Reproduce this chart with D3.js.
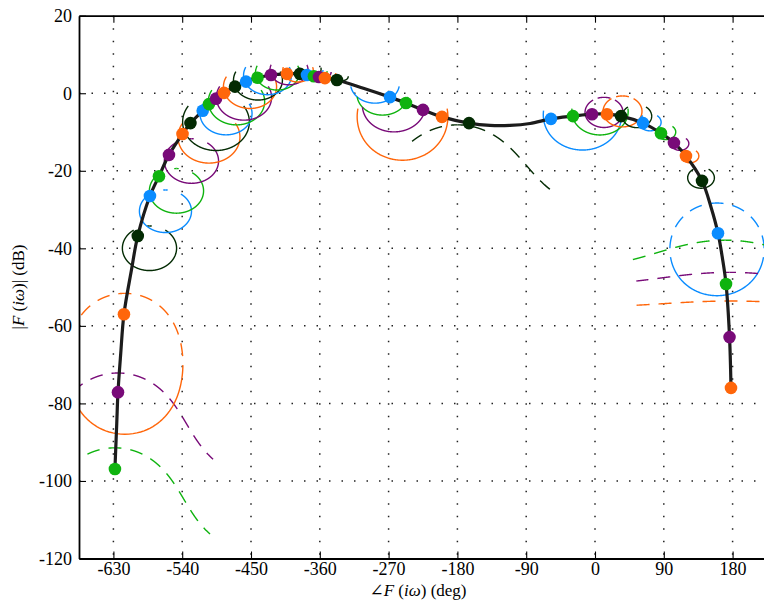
<!DOCTYPE html>
<html>
<head>
<meta charset="utf-8">
<script src="https://cdn.jsdelivr.net/npm/d3@7"></script>
<style>
  body { margin: 0; background: #fff; }
  svg { display: block; }
  svg text { font-family: "Liberation Serif", "DejaVu Serif", serif !important; fill: #000; }
</style>
</head>
<body>
<svg id="chart" width="764" height="608"></svg>
<script>
// Axis ticks
const xTicks = [-630, -540, -450, -360, -270, -180, -90, 0, 90, 180];
const yTicks = [20, 0, -20, -40, -60, -80, -100, -120];

// Nominal frequency response F(iω): phase (deg) and magnitude (dB)
const curvePhase = [-628, -625.6, -624, -620.4, -616.2, -606.4, -598.1, -582.2, -570.4, -557.3, -539.6, -529.2,
  -513.2, -505.0, -495.8, -485.3, -470.9, -456.5, -441.5, -423.9, -403.0, -386.0, -376.8, -367.7, -361.1, -353.3,
  -337.6, -303.0, -268.2, -247.3, -225.0, -200.2, -164.8, -137.4, -111.2, -85.0, -57.6, -28.8, -3.9, 15.7, 34.0,
  62.8, 86.3, 103.3, 119.0, 140.0, 151.8, 160.9, 166.8, 171.4, 176.0, 177.9];
const curveDb = [-96.9, -85.1, -77.1, -67.1, -57.0, -45.6, -36.8, -26.5, -21.4, -15.9, -10.5, -7.7,
  -4.5, -2.8, -1.4, 0.1, 1.7, 3.0, 4.0, 4.7, 5.0, 5.0, 4.7, 4.4, 4.2, 3.9,
  3.4, 1.3, -1.0, -2.5, -4.3, -6.1, -7.7, -8.3, -8.3, -7.8, -6.6, -5.9, -5.4, -5.4, -5.9,
  -7.7, -10.3, -12.8, -16.2, -22.6, -29.4, -36.1, -42.7, -49.2, -62.9, -76.0];

// Frequency samples marked on the response
const markerPhase = [-628, -624, -616.2, -598.1, -582.2, -570.4, -557.3, -539.6, -529.2, -513.2, -505.0,
  -495.8, -485.3, -470.9, -456.5, -441.5, -423.9, -403.0, -386.0, -376.8, -367.7, -361.1, -353.3, -337.6,
  -268.2, -247.3, -225.0, -200.2, -164.8, -57.6, -28.8, -3.9, 15.7, 34.0, 62.8, 86.3, 103.3, 119.0, 140.0,
  160.9, 171.4, 176.0, 177.9];
const markerDb = [-96.9, -77.1, -57.0, -36.8, -26.5, -21.4, -15.9, -10.5, -7.7, -4.5, -2.8,
  -1.4, 0.1, 1.7, 3.0, 4.0, 4.7, 5.0, 5.0, 4.7, 4.4, 4.2, 3.9, 3.4,
  -1.0, -2.5, -4.3, -6.1, -7.7, -6.6, -5.9, -5.4, -5.4, -5.9, -7.7, -10.3, -12.8, -16.2, -22.6,
  -36.1, -49.2, -62.9, -76.0];
const seriesColors = ["#0a8cff", "#0fb30f", "#780a78", "#ff660a", "#032b03"];

// Uncertainty discs (complex plane): centre phase/dB, radius relative to |centre|
const circlePhase = [-628, -624, -615, -582.8, -561.9, -547.5, -527.9, -505.0, -495.8, -482.7, -469.0,
  -459.2, -451.3, -440.9, -428.4, -415.4, -400.3, -388.5, -372.8, -366.3, -359.8, -353.2, -346.7, -329.7,
  -287.8, -278.0, -263.0, -251.8, -180.0, -16.4, 6.5, 11.8, 36.0, 54.9, 72.0, 92.9, 111.2, 124.3, 138.7,
  159.6, 170.1, 176.0, 177.9];
const circleDb = [-97.9, -78.6, -57.5, -38.2, -28.8, -23.4, -15.7, -8.9, -4.6, -3.6, -0.2,
  0.8, 3.4, 4.8, 6.0, 6.5, 6.9, 6.5, 6.5, 6.0, 5.7, 5.5, 5.2, 4.4,
  4.0, 1.3, -0.6, -0.2, -15.0, -1.5, -2.8, -4.1, -3.8, -5.4, -7.2, -9.8, -12.8, -16.0, -21.4,
  -33.8, -49.4, -63.1, -76.2];
const circleRho = [1.1, 1.1, 0.97, 0.58, 0.56, 0.58, 0.58, 0.65, 0.69, 0.56, 0.6,
  0.59, 0.57, 0.53, 0.52, 0.48, 0.42, 0.34, 0.25, 0.18, 0.16, 0.14, 0.13, 0.12,
  0.53, 0.55, 0.66, 0.86, 1.2, 0.78, 0.6, 0.42, 0.43, 0.33, 0.25, 0.22, 0.2, 0.2, 0.3,
  0.88, 2.76, 6, 12.5];
// Arc ranges in degrees around each disc (0 = outermost point, 180 = point nearest the origin)
const L = [58, 302], B = [95, 265], M = [50, 310], T = [-55, 55], K = [-8, 8];
const circleSolid = [null, null, [171, 183], L, L, L, L, B, B, B, B,
  B, B, B, B, B, B, B, B, B, B, B, B, B,
  [130, 230], [130, 230], [135, 225], [140, 220], null, [135, 225], [120, 240], M, M, M, M, M, M, M, [45, 315],
  [162, 195], null, null, null];
const circleDashed = [[-173, 173], [-173, 173], [-177, 171], K, K, K, K, null, null, null, null,
  null, null, null, null, null, null, null, null, null, null, null, null, null,
  null, null, null, null, [-105, 167], null, null, T, T, null, null, null, null, null, null,
  [-165, 162], [-143, 143], [-130, 130], [-128, 128]];

const svg = d3.select("#chart");
const x = d3.scaleLinear().domain([-675, 225]).range([79, 767]);
const y = d3.scaleLinear().domain([-120, 20]).range([558.5, 15.7]);
const colorOf = i => seriesColors[(i + 1) % seriesColors.length];
const serif = "'Liberation Serif', 'DejaVu Serif', serif";

svg.append("defs").append("clipPath").attr("id", "plot")
  .append("rect").attr("x", x(-675)).attr("y", y(20))
  .attr("width", x(225) - x(-675)).attr("height", y(-120) - y(20));

// Dotted grid
const grid = svg.append("g").attr("stroke", "#222").attr("stroke-width", 1.5)
  .attr("stroke-dasharray", "1.5,11");
grid.selectAll(".gx").data(xTicks).join("line")
  .attr("x1", d => x(d)).attr("x2", d => x(d)).attr("y1", y(20)).attr("y2", y(-120));
grid.selectAll(".gy").data(yTicks.filter(d => d > -120 && d < 20)).join("line")
  .attr("x1", x(-675)).attr("x2", x(225)).attr("y1", d => y(d)).attr("y2", d => y(d));

// Disc images in the Nichols plane
function ringPath(k, t0, t1) {
  const rho = circleRho[k];
  const n = Math.max(8, Math.ceil(Math.abs(t1 - t0) * 6));
  const pts = [];
  let prev = null;
  for (let j = 0; j <= n; j++) {
    const t = (t0 + (t1 - t0) * j / n) * Math.PI / 180;
    const re = 1 + rho * Math.cos(t), im = rho * Math.sin(t);
    let a = Math.atan2(im, re) * 180 / Math.PI;
    if (prev !== null) {
      while (a - prev > 180) a -= 360;
      while (a - prev < -180) a += 360;
    }
    prev = a;
    pts.push([circlePhase[k] + a, circleDb[k] + 20 * Math.log10(Math.hypot(re, im))]);
  }
  return d3.line().x(p => x(p[0])).y(p => y(p[1]))(pts);
}

const rings = svg.append("g").attr("clip-path", "url(#plot)").attr("fill", "none")
  .attr("stroke-width", 1.4);
circlePhase.forEach((_, k) => {
  const c = colorOf(k);
  const s = circleSolid[k], d = circleDashed[k];
  if (s) rings.append("path").attr("d", ringPath(k, s[0], s[1])).attr("stroke", c);
  if (d) {
    const parts = (d[0] < 0 && d[1] > 0) ? [[0, d[1]], [0, d[0]]] : [d];
    parts.forEach(p => rings.append("path").attr("d", ringPath(k, p[0], p[1]))
      .attr("stroke", c).attr("stroke-dasharray", "13,9").attr("stroke-dashoffset", 6.5));
  }
});

// Nominal response
svg.append("path").attr("clip-path", "url(#plot)")
  .datum(curvePhase.map((p, i) => [p, curveDb[i]]))
  .attr("fill", "none").attr("stroke", "#1c1c1c").attr("stroke-width", 3.2)
  .attr("d", d3.line().x(d => x(d[0])).y(d => y(d[1])).curve(d3.curveCatmullRom.alpha(0.5)));

// Frequency markers
svg.append("g").selectAll("circle").data(markerPhase).join("circle")
  .attr("cx", d => x(d)).attr("cy", (d, i) => y(markerDb[i])).attr("r", 6.3)
  .attr("fill", (d, i) => colorOf(i));

// Axes
const fmt = d => String(d);
const styleAxis = g => {
  g.attr("font-family", serif);
  g.select(".domain").attr("stroke", "#000").attr("stroke-width", 1.8);
  g.selectAll(".tick line").attr("stroke", "#000").attr("stroke-width", 1.1);
  g.selectAll("text").attr("font-size", 18).style("font-family", serif);
};
svg.append("g").attr("transform", `translate(0,${y(-120)})`)
  .call(d3.axisBottom(x).tickValues(xTicks).tickFormat(fmt).tickSizeInner(-7).tickSizeOuter(0).tickPadding(4))
  .call(styleAxis);
svg.append("g").attr("transform", `translate(0,${y(20)})`)
  .call(d3.axisTop(x).tickValues(xTicks).tickFormat(() => "").tickSizeInner(-7).tickSizeOuter(0))
  .call(styleAxis);
svg.append("g").attr("transform", `translate(${x(-675)},0)`)
  .call(d3.axisLeft(y).tickValues(yTicks).tickFormat(fmt).tickSizeInner(-7).tickSizeOuter(0).tickPadding(7))
  .call(styleAxis);

// Axis titles
const xl = svg.append("text").attr("x", 418).attr("y", 596).attr("text-anchor", "middle")
  .attr("font-size", 17).style("font-family", serif);
xl.append("tspan").text("∠");
xl.append("tspan").attr("font-style", "italic").text("F");
xl.append("tspan").text(" (");
xl.append("tspan").attr("font-style", "italic").text("iω");
xl.append("tspan").text(") (deg)");

const yl = svg.append("text").attr("transform", "translate(24,287) rotate(-90)")
  .attr("text-anchor", "middle").attr("font-size", 17).style("font-family", serif);
yl.append("tspan").text("|");
yl.append("tspan").attr("font-style", "italic").text("F");
yl.append("tspan").text(" (");
yl.append("tspan").attr("font-style", "italic").text("iω");
yl.append("tspan").text(")| (dB)");
</script>
</body>
</html>
